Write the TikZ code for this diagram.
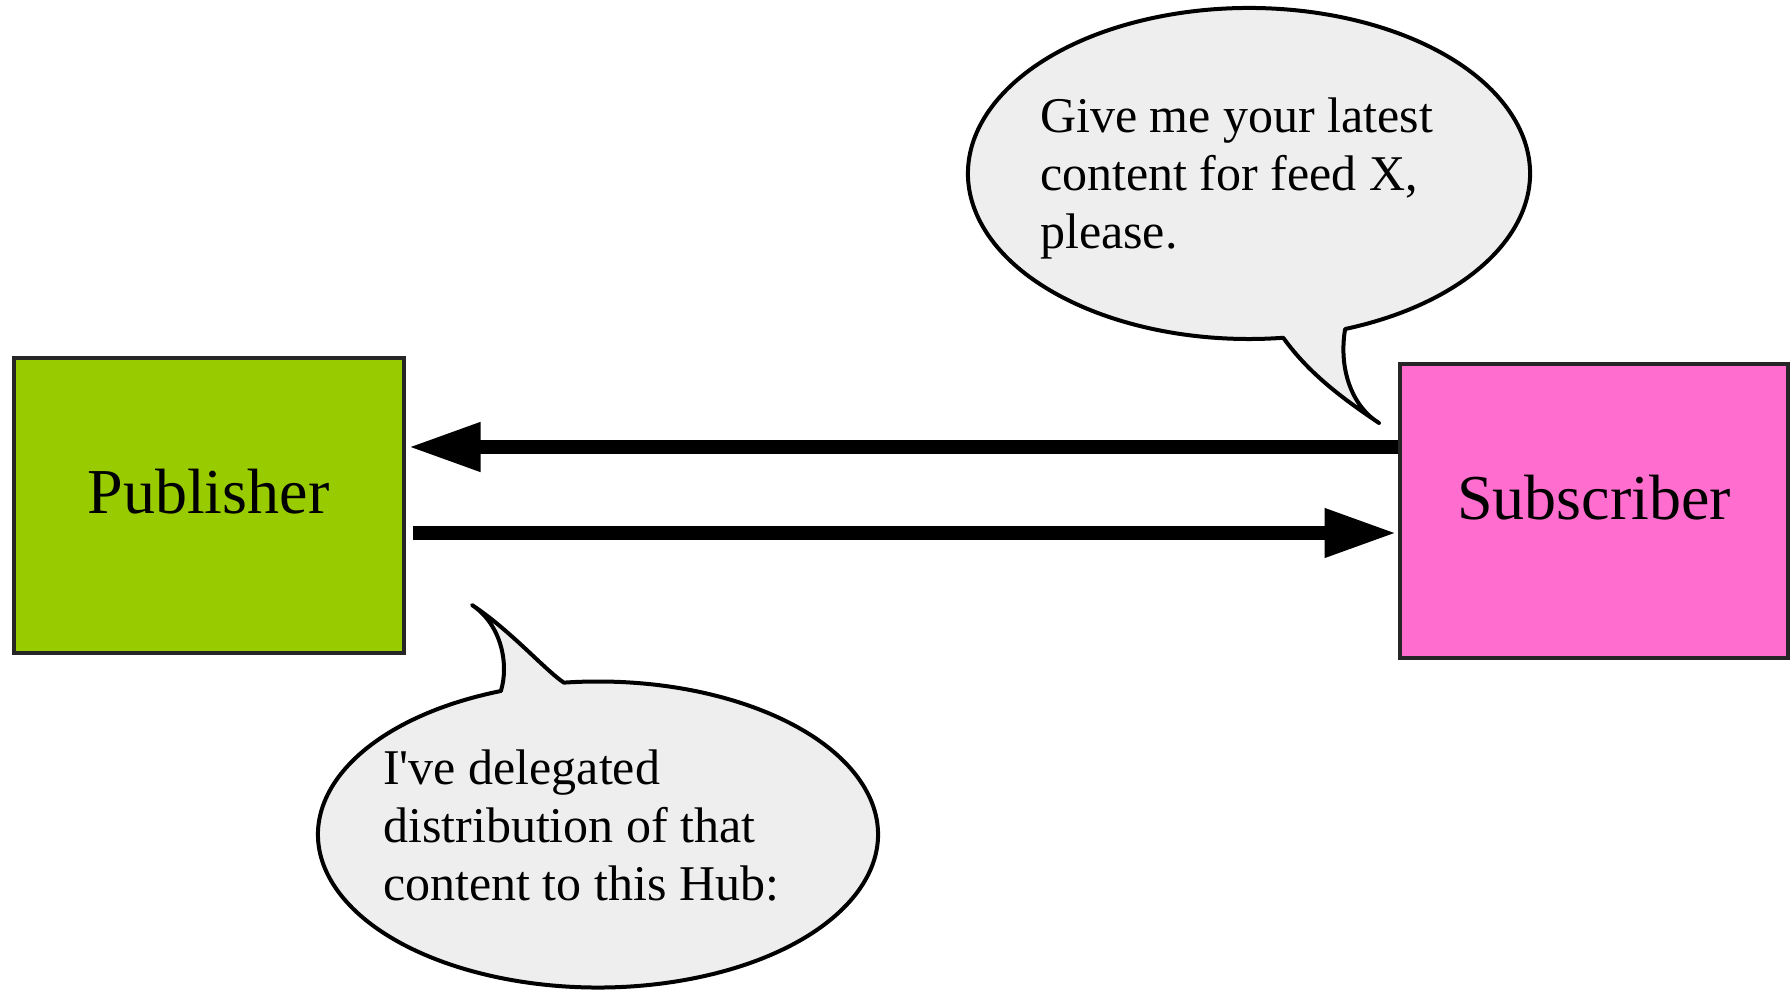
\documentclass[tikz,border=0pt]{standalone}
\usepackage{fontspec}
\setmainfont{Liberation Serif}
\usetikzlibrary{arrows.meta,calc}
\definecolor{pubgreen}{HTML}{99CC00}
\definecolor{subpink}{HTML}{FF6ECF}
\definecolor{bubblegray}{HTML}{EEEEEE}
\begin{document}
\begin{tikzpicture}[x=1pt,y=1pt,
  box/.style={draw=black!85, line width=4pt, inner sep=0pt,
    font=\fontsize{64}{72}\selectfont, text height=30pt, text depth=14pt},
  bubble/.style={draw=black, line width=4pt, fill=bubblegray, line join=round},
  saying/.style={font=\fontsize{50}{58}\selectfont, align=left, inner sep=0pt, anchor=base west},
  flow/.style={line width=13.5pt, -{Triangle[length=72pt,width=46pt]}}]
\useasboundingbox (0,0) rectangle (1792,-990);

% the two parties
\node[box, fill=pubgreen, minimum width=390pt, minimum height=295pt] (pub) at (208.5,-505.5) {Publisher};
\node[box, fill=subpink, minimum width=388pt, minimum height=294pt] (sub) at (1594,-511) {Subscriber};

% request and reply
\coordinate (askS) at ([yshift=64pt]sub.west);
\draw[flow] (askS) -- ($(askS -| pub.east)+(3,0)$);
\coordinate (ansS) at ([yshift=-22pt]sub.west);
\draw[flow] ($(ansS -| pub.east)+(7,0)$) -- ($(ansS)+(-1.5,0)$);

% subscriber's speech bubble (last line set on its baseline)
\coordinate (askC) at (1249,-173.5);
\draw[bubble] ($(askC)+(-70:281pt and 165.5pt)$)
  arc[start angle=-70, end angle=277, x radius=281pt, y radius=165.5pt]
  .. controls (1310,-375) and (1345,-400) .. (1379,-423)
  .. controls (1354,-408) and (1338,-372) .. cycle;
\node[saying] (ask) at (1040,-248) {Give me your latest\\content for feed X,\\please.};

% publisher's speech bubble
\coordinate (delC) at (598,-834.5);
\draw[bubble] ($(delC)+(110.3:280pt and 153pt)$)
  arc[start angle=110.3, end angle=457, x radius=280pt, y radius=153pt]
  .. controls (545,-670) and (510,-630) .. (472,-605)
  .. controls (502,-625) and (509,-665) .. cycle;
\node[saying] (del) at (383,-900) {I\textquotesingle ve delegated\\distribution of that\\content to this Hub:};
\end{tikzpicture}
\end{document}
